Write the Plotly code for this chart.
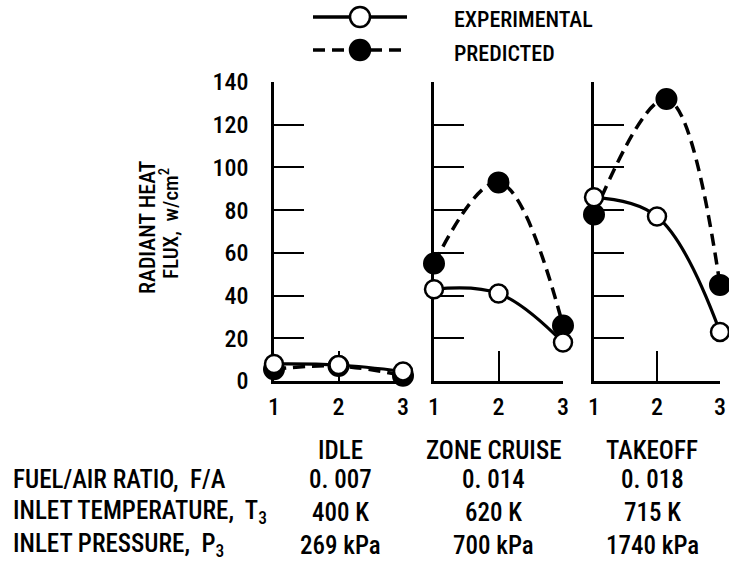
import plotly.graph_objects as go

# Operating point index along each panel
x_points = [1, 2, 3]
conditions = ["IDLE", "ZONE CRUISE", "TAKEOFF"]

# Radiant heat flux, W/cm^2
exp_idle = [8, 7.5, 4.5]
pred_idle = [5.5, 7, 2.5]
exp_cruise = [43, 41, 18]
pred_cruise = [55, 93, 26]
exp_takeoff = [86, 77, 23]
pred_takeoff = [78, 132, 45]
pred_takeoff_x = [1, 2.15, 3]

y_ticks = [0, 20, 40, 60, 80, 100, 120, 140]

# Operating-condition table
fuel_air = ["0. 007", "0. 014", "0. 018"]
inlet_temp = ["400 K", "620 K", "715 K"]
inlet_press = ["269 kPa", "700 kPa", "1740 kPa"]
row_labels = ["FUEL/AIR RATIO,  F/A", "INLET TEMPERATURE,  T<sub>3</sub>", "INLET PRESSURE,  P<sub>3</sub>"]

FONT = "Roboto Condensed, DejaVu Sans Condensed, sans-serif"
WEIGHT = 500
W, H = 729, 563


def px(x):
    return x / W


def py(y):
    return 1 - y / H


def tfont(size):
    return dict(family=FONT, size=size, color="black", weight=WEIGHT)


panel_px = [(274, 403), (434, 563), (594, 720)]
y_top, y_bot = 82, 381

fig = go.Figure()

panels = [
    (x_points, exp_idle, x_points, pred_idle),
    (x_points, exp_cruise, x_points, pred_cruise),
    (x_points, exp_takeoff, pred_takeoff_x, pred_takeoff),
]

for i, (xe, ye, xp, yp) in enumerate(panels):
    sfx = "" if i == 0 else str(i + 1)
    fig.add_trace(go.Scatter(
        x=xp, y=yp, mode="lines+markers", xaxis="x" + sfx, yaxis="y" + sfx,
        line=dict(color="black", width=3.5, dash="12px,7px", shape="spline", smoothing=1.1),
        marker=dict(symbol="circle", size=20, color="black", line=dict(color="black", width=2)),
        cliponaxis=False, showlegend=False, hoverinfo="skip",
    ))
    fig.add_trace(go.Scatter(
        x=xe, y=ye, mode="lines+markers", xaxis="x" + sfx, yaxis="y" + sfx,
        line=dict(color="black", width=3.2, shape="spline", smoothing=1.1),
        marker=dict(symbol="circle", size=18, color="white", line=dict(color="black", width=2.5)),
        cliponaxis=False, showlegend=False, hoverinfo="skip",
    ))

layout = dict(
    width=W, height=H,
    margin=dict(l=0, r=0, t=0, b=0, autoexpand=False),
    paper_bgcolor="white", plot_bgcolor="white",
    font=dict(family=FONT, color="black"),
    showlegend=False,
)

for i, (x0, x1) in enumerate(panel_px):
    sfx = "" if i == 0 else str(i + 1)
    layout["xaxis" + sfx] = dict(
        domain=[px(x0), px(x1)], range=[1, 3], anchor="y" + sfx,
        tickvals=x_points, ticktext=[str(v) for v in x_points],
        ticks="inside", ticklen=30, tickwidth=2.2, tickcolor="black",
        showline=True, linecolor="black", linewidth=2.5,
        showgrid=False, zeroline=False, layer="below traces", automargin=False,
        tickfont=tfont(24),
        ticklabelstandoff=2,
    )
    layout["yaxis" + sfx] = dict(
        domain=[py(y_bot), py(y_top)], range=[0, 140], anchor="x" + sfx,
        tickvals=y_ticks, ticktext=[str(v) for v in y_ticks],
        showticklabels=(i == 0),
        ticks="inside", ticklen=30, tickwidth=2.2, tickcolor="black",
        showline=True, linecolor="black", linewidth=2.5,
        showgrid=False, zeroline=False, layer="below traces", automargin=False,
        tickfont=tfont(24),
        ticklabelstandoff=18,
    )

fig.update_layout(**layout)

annotations = []
# Y axis title, two rotated lines
annotations.append(dict(
    x=px(148), y=py(227), xref="paper", yref="paper", textangle=-90,
    xanchor="center", yanchor="middle", text="RADIANT HEAT", showarrow=False,
    font=tfont(22),
))
annotations.append(dict(
    x=px(169), y=py(224), xref="paper", yref="paper", textangle=-90,
    xanchor="center", yanchor="middle", text="FLUX,  w/cm<sup>2</sup>", showarrow=False,
    font=tfont(21),
))

# Legend keys
shapes = []
leg = [(17, "solid", "white", "EXPERIMENTAL"), (50, "12px,7px", "black", "PREDICTED")]
for yy, dash, fill, label in leg:
    shapes.append(dict(type="line", xref="paper", yref="paper",
                       x0=px(313), x1=px(407), y0=py(yy), y1=py(yy),
                       line=dict(color="black", width=3.5, dash=dash)))
    r = 10
    shapes.append(dict(type="circle", xref="paper", yref="paper",
                       x0=px(360 - r), x1=px(360 + r), y0=py(yy + r), y1=py(yy - r),
                       fillcolor=fill, line=dict(color="black", width=2.5)))
    annotations.append(dict(x=px(452), y=py(yy + 3), xref="paper", yref="paper",
                            text=label, showarrow=False, xanchor="left", yanchor="middle",
                            font=tfont(22)))

# Operating-condition table
col_x = [340, 494, 652]
row_y = [479, 512, 545]
for cx, name in zip(col_x, conditions):
    annotations.append(dict(x=px(cx), y=py(450), xref="paper", yref="paper",
                            text=name, showarrow=False, xanchor="center", yanchor="middle",
                            font=tfont(25)))
for ry, lab, vals in zip(row_y, row_labels, [fuel_air, inlet_temp, inlet_press]):
    annotations.append(dict(x=px(11), y=py(ry), xref="paper", yref="paper",
                            text=lab, showarrow=False, xanchor="left", yanchor="middle",
                            font=tfont(25)))
    for cx, v in zip(col_x, vals):
        annotations.append(dict(x=px(cx), y=py(ry), xref="paper", yref="paper",
                                text=v, showarrow=False, xanchor="center", yanchor="middle",
                                font=tfont(25)))

fig.update_layout(annotations=annotations, shapes=shapes)
fig.write_html("out.html")
